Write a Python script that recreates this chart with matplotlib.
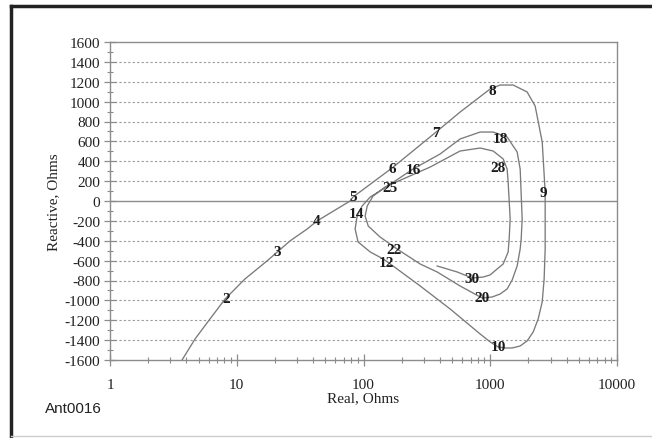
import numpy as np
import matplotlib
matplotlib.use("Agg")
import matplotlib.pyplot as plt
from matplotlib.lines import Line2D
from matplotlib.ticker import FixedLocator, NullFormatter

plt.rcParams['axes.unicode_minus'] = False

# impedance trace (Real, Reactive)
real_ohms = [3.70, 4.69, 6.15, 8.09, 11.6, 17.3, 26.3, 35.9, 43.0, 78.4, 82.7, 168, 374, 578,
             998, 1197, 1517, 1954, 2260, 2570, 2712,
             2712, 2661, 2570, 2388, 2182, 1954, 1722, 1489, 1312, 1154, 998, 832, 482, 280,
             171, 143, 113, 90.6, 85.9, 89.1, 97.5, 113, 143, 246, 402, 578, 832, 1054, 1359,
             1630, 1722, 1786, 1754, 1722, 1630, 1489, 1359, 1197, 1035, 863, 578, 381, 280,
             184, 135, 109, 103, 107, 119, 148, 336, 578, 832, 1054, 1265, 1359, 1384, 1436,
             1410, 1384, 1265, 1133, 998, 879, 719, 548, 381]
reactive_ohms = [-1600, -1388, -1187, -986, -785, -604, -402, -282, -201, 0, 40, 332, 694, 895,
                 1127, 1167, 1167, 1097, 956, 594, 91,
                 -483, -785, -1016, -1187, -1318, -1408, -1459, -1479, -1479, -1469, -1418, -1338, -1086, -855,
                 -654, -583, -513, -412, -282, -151, -50, 40, 121, 322, 473, 624, 694, 694, 644,
                 493, 322, -181, -382, -483, -654, -795, -885, -936, -966, -976, -855, -714, -634,
                 -483, -362, -252, -151, -50, 50, 141, 342, 503, 533, 503, 423, 322, 191, -181,
                 -382, -513, -634, -684, -744, -765, -775, -714, -654]

label_text = ['2', '3', '4', '5', '6', '7', '8', '9', '10', '12', '14', '16', '18', '20', '22',
              '25', '28', '30']
label_real = [8.2, 20.8, 43, 83, 168, 374, 1035, 2617, 1154, 153, 87.5, 246, 1197, 861, 174,
              162, 1154, 719]
label_reactive = [-986, -513, -201, 50, 332, 694, 1107, 90, -1469, -614, -121, 322, 624, -976,
                  -493, 131, 342, -775]

y_ticks = list(range(-1600, 1601, 200))
x_ticks = [1, 10, 100, 1000, 10000]

fig = plt.figure(figsize=(6.52, 4.39), dpi=100)
fig.patch.set_facecolor('white')
ax = fig.add_axes([110 / 652, 1 - 361 / 439, 507 / 652, 318 / 439])

grey = '#8c8c8c'
for y in y_ticks:
    if y == 0:
        ax.axhline(0, color=grey, lw=1.0, zorder=1)
    elif -1600 < y < 1600:
        ax.axhline(y, color='#9a9a9a', lw=0.8, ls=(0, (2, 2)), zorder=1)

ax.plot(real_ohms, reactive_ohms, color='#7a7a7a', lw=0.95, zorder=2)

for t, xr, yr in zip(label_text, label_real, label_reactive):
    ax.text(xr, yr, t, ha='center', va='center', fontsize=11, fontweight='bold',
            family='Liberation Serif', color='#1a1a1a', zorder=3)

ax.set_xscale('log')
ax.set_xlim(1, 10000)
ax.set_ylim(-1600, 1600)
ax.set_xticks(x_ticks)
ax.set_xticklabels([str(v) for v in x_ticks])
ax.xaxis.set_minor_locator(FixedLocator([m * 10 ** d for d in range(4) for m in range(2, 10)]))
ax.xaxis.set_minor_formatter(NullFormatter())
ax.set_yticks(y_ticks)
ax.set_yticklabels([str(v) for v in y_ticks])
ax.yaxis.set_minor_locator(FixedLocator(list(range(-1500, 1600, 200))))

for lab in ax.get_xticklabels() + ax.get_yticklabels():
    lab.set_family('Liberation Serif')
    lab.set_fontsize(11)
    lab.set_color('#222222')

ax.tick_params(axis='both', which='major', direction='inout', length=8, width=0.9, color=grey)
ax.tick_params(axis='both', which='minor', direction='inout', length=5, width=0.8, color=grey)
ax.tick_params(axis='x', which='major', pad=9)
ax.tick_params(axis='y', which='major', pad=3)
for s in ax.spines.values():
    s.set_color(grey)
    s.set_linewidth(1.0)

ax.set_xlabel('Real, Ohms', family='Liberation Serif', fontsize=11, color='#222222', labelpad=0)
ax.set_ylabel('Reactive, Ohms', family='Liberation Serif', fontsize=11, color='#222222', labelpad=3)

fig.text(45 / 652, 1 - 409 / 439, 'Ant0016', family='Liberation Sans', fontsize=11,
         color='#222222', ha='left', va='center')

# outer frame
fig.add_artist(Line2D([11 / 652, 11 / 652], [1 - 437 / 439, 1 - 7 / 439], color='#222222', lw=2.5))
fig.add_artist(Line2D([11 / 652, 1.0], [1 - 7 / 439, 1 - 7 / 439], color='#222222', lw=2.5))
fig.add_artist(Line2D([11 / 652, 1.0], [1 - 437 / 439, 1 - 437 / 439], color='#cccccc', lw=1.0))

fig.savefig('out.png', dpi=100)
